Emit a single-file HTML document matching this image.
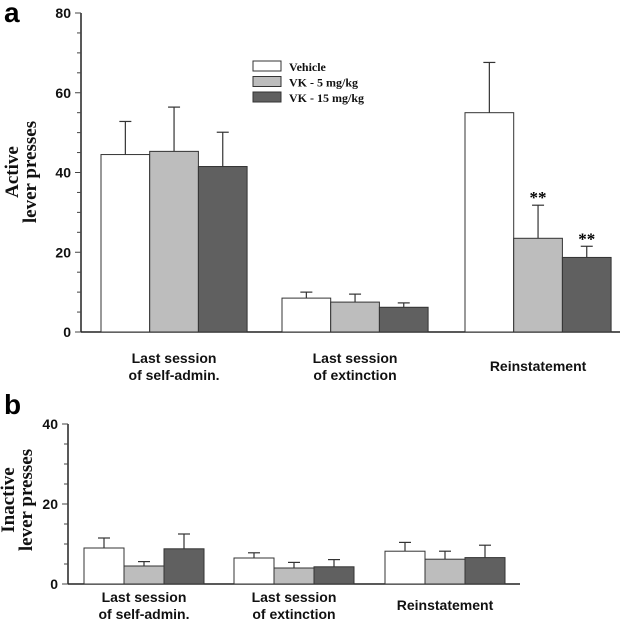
<!DOCTYPE html>
<html><head><meta charset="utf-8"><style>
body{margin:0;background:#fff;width:633px;height:629px;overflow:hidden}
svg{display:block}
.tk{font:bold 14px "Liberation Sans",sans-serif;fill:#111}
.cat{font:bold 14px "Liberation Sans",sans-serif;fill:#111}
.yt{font:bold 19px "Liberation Serif",serif;fill:#111}
.lg{font:bold 12px "Liberation Serif",serif;fill:#111}
</style></head><body>
<svg id="c" width="633" height="629" xmlns="http://www.w3.org/2000/svg"></svg>
<script>
const categories=["Last session|of self-admin.","Last session|of extinction","Reinstatement"];
const seriesNames=["Vehicle","VK - 5 mg/kg","VK - 15 mg/kg"];
const activeMeans=[[44.5,45.3,41.5],[8.5,7.5,6.2],[55,23.5,18.7]];
const activeErr=[[8.3,11.1,8.6],[1.5,2.0,1.1],[12.6,8.3,2.8]];
const activeSig=[["","",""],["","",""],["","**","**"]];
const inactiveMeans=[[9,4.5,8.8],[6.5,4,4.3],[8.2,6.2,6.6]];
const inactiveErr=[[2.5,1.1,3.7],[1.3,1.4,1.8],[2.2,2.0,3.1]];
const activeTicks=[0,20,40,60,80];
const inactiveTicks=[0,20,40];
const fills=["#ffffff","#bdbdbd","#606060"];
const NS="http://www.w3.org/2000/svg";
const svg=document.getElementById('c');
function mk(t,a,p){const e=document.createElementNS(NS,t);for(const k in a)e.setAttribute(k,a[k]);(p||svg).appendChild(e);return e;}
function panel(cfg){
  const g=mk('g',{});
  
  
  const y=v=>cfg.y0-(v/cfg.max)*(cfg.y0-cfg.yTop);
  const ya=mk('line',{x1:cfg.ax,y1:cfg.yTop,x2:cfg.ax,y2:cfg.y0,stroke:'#222','stroke-width':1.5},g);
  
  const xa=mk('line',{x1:cfg.ax,y1:cfg.y0,x2:cfg.xEnd,y2:cfg.y0,stroke:'#222','stroke-width':1.5},g);
  
  for(let v=0;v<=cfg.max;v+=5){const major=v%20===0;
    mk('line',{x1:cfg.ax-(major?6:4),y1:y(v),x2:cfg.ax,y2:y(v),stroke:'#444','stroke-width':1},g);}
  cfg.ticks.forEach(v=>{const t=mk('text',{x:cfg.ax-10,y:y(v)+5,'text-anchor':'end',class:'tk'},g);t.textContent=v;
    });
  cfg.means.forEach((grp,i)=>{grp.forEach((m,j)=>{
    const x=cfg.gx[i]+j*cfg.bw;const top=y(m);const eTop=y(m+cfg.err[i][j]);const cx=x+cfg.bw/2;
    const el=mk('line',{x1:cx,y1:top,x2:cx,y2:eTop,stroke:'#333','stroke-width':1.2},g);
    
    mk('line',{x1:cx-6,y1:eTop,x2:cx+6,y2:eTop,stroke:'#333','stroke-width':1.2},g);
    const r=mk('rect',{x:x,y:top,width:cfg.bw,height:cfg.y0-top,fill:fills[j],stroke:'#333','stroke-width':1},g);
    
    if(cfg.sig&&cfg.sig[i][j]){const s=mk('text',{x:cx,y:eTop-2,'text-anchor':'middle',style:'font:bold 17px "Liberation Serif",serif'},g);s.textContent=cfg.sig[i][j];
      }
  });
    const cxg=cfg.gx[i]+1.5*cfg.bw;const lines=categories[i].split('|');
    const t=mk('text',{x:cxg,y:cfg.catY+(lines.length==1?8:0),'text-anchor':'middle',class:'cat'},g);
    
    lines.forEach((l,k)=>{const ts=mk('tspan',{x:cxg,dy:k?17:0},t);ts.textContent=l;});
  });
  const yt=mk('text',{transform:`translate(${cfg.ytx},${cfg.yty}) rotate(-90)`,'text-anchor':'middle',class:'yt'},g);
  
  cfg.title.forEach((l,k)=>{const ts=mk('tspan',{x:0,dy:k?18:0},yt);ts.textContent=l;});
  const pl=mk('text',{x:4,y:cfg.letterY,style:'font:bold 28px "Liberation Sans",sans-serif'},g);pl.textContent=cfg.letter;
  
}
panel({name:'panel-a-active',y0:332,yTop:13,max:80,ax:81,xEnd:620,ticks:activeTicks,means:activeMeans,err:activeErr,sig:activeSig,
  gx:[101,282,465],bw:48.7,catY:363,title:['Active','lever presses'],ytx:18,yty:172,letter:'a',letterY:22});
panel({name:'panel-b-inactive',y0:584,yTop:424,max:40,ax:68,xEnd:520,ticks:inactiveTicks,means:inactiveMeans,err:inactiveErr,sig:null,
  gx:[84,234,385],bw:40,catY:602,title:['Inactive','lever presses'],ytx:14,yty:500,letter:'b',letterY:414});
const lg=mk('g',{});

seriesNames.forEach((n,j)=>{const yy=61+j*15.5;
  const r=mk('rect',{x:253,y:yy,width:28,height:10,fill:fills[j],stroke:'#333','stroke-width':1},lg);
  
  const t=mk('text',{x:289,y:yy+10,class:'lg'},lg);t.textContent=n;
  });
</script>
</body></html>
